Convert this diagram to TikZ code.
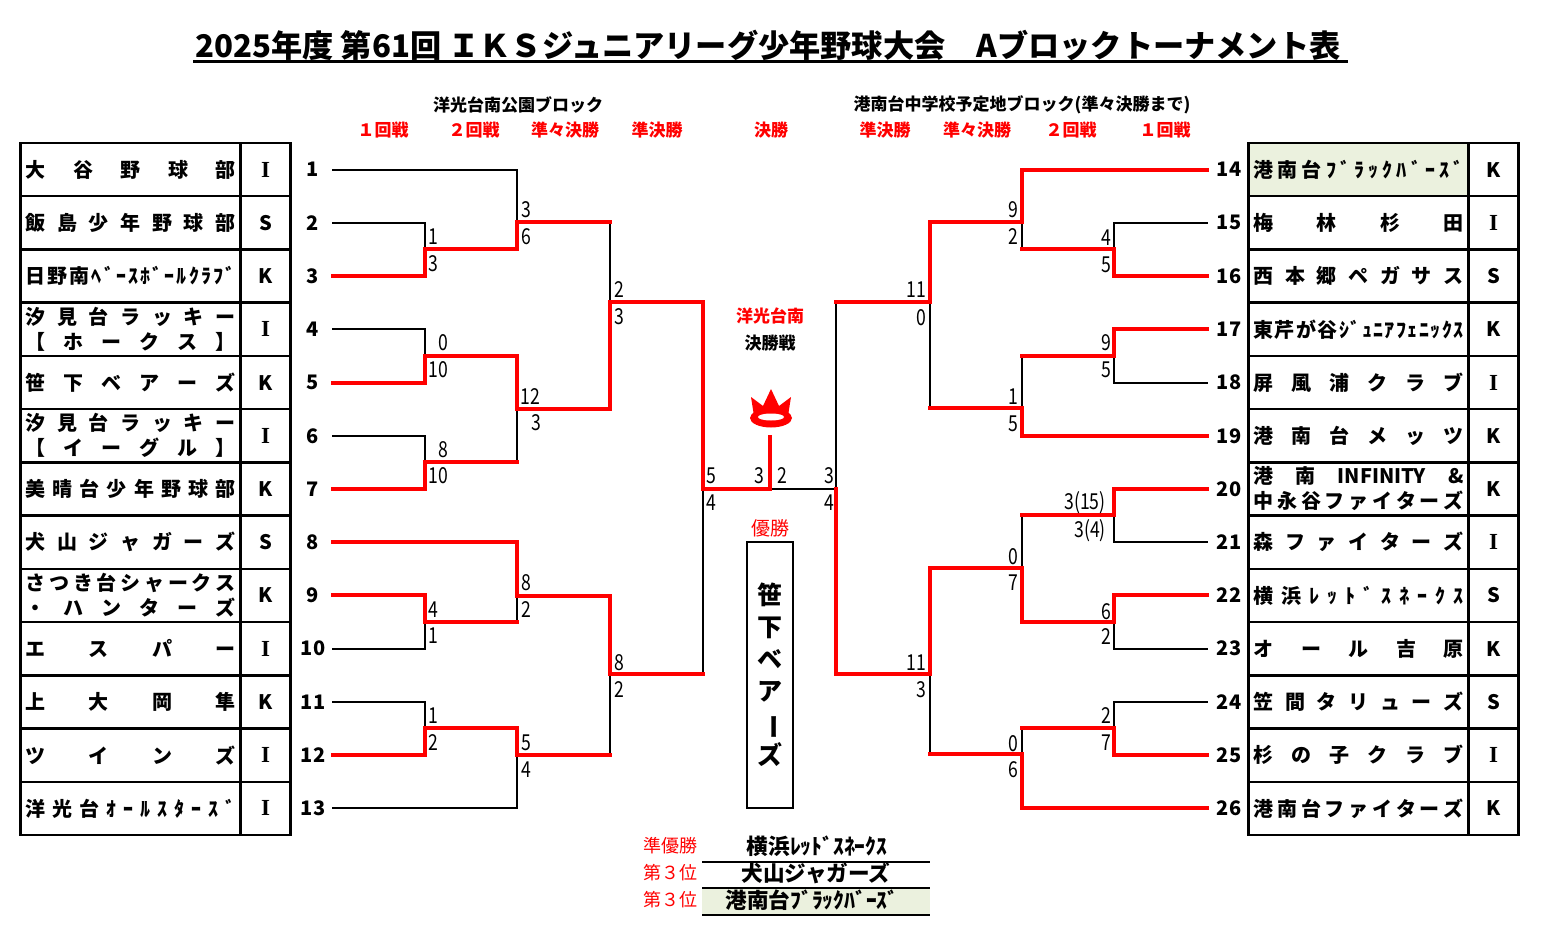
\documentclass[tikz,border=0pt]{standalone}
\usepackage{fontspec}
\setmainfont{Noto Sans CJK JP}
\newfontfamily\scorefont{Noto Sans CJK JP}[FakeStretch=0.8]
\newfontfamily\serifclub{Liberation Serif}
\usepackage{graphicx}

\definecolor{paleolive}{HTML}{EBF1DE}

% spread the letters of a name over the whole cell
\newlength\namew \setlength\namew{105pt}
\def\distloop#1{\ifx#1\relax\else\hfill#1\expandafter\distloop\fi}
\def\distfirst#1{#1\distloop}
\newcommand\dist[1]{\makebox[\namew][s]{\distfirst#1\relax}}
\newcommand\clubI{{\serifclub\bfseries\fontsize{11.5}{12}\selectfont I}}

\tikzset{
  bline/.style={black, line width=1pt, line cap=rect},
  rline/.style={red, line width=2pt, line cap=rect},
  namecell/.style={draw, line width=1.2pt, minimum width=110pt, minimum height=26.6pt,
    inner sep=0pt, align=center, font=\bfseries\fontsize{10}{12.5}\selectfont},
  clubcell/.style={namecell, minimum width=25pt},
  seed/.style={inner sep=0pt, minimum width=20pt, font=\bfseries\fontsize{10}{12}\selectfont},
  score/.style={inner sep=0pt, font=\scorefont\fontsize{11}{12}\selectfont},
  head/.style={inner sep=0pt, font=\bfseries\fontsize{8.5}{10}\selectfont},
  roundlbl/.style={head, text=red},
  rank/.style={inner sep=0pt, text=red, font=\fontsize{9}{11}\selectfont},
  place/.style={inner sep=0pt, font=\bfseries\fontsize{10.8}{12}\selectfont}
}

\begin{document}
\begin{tikzpicture}[x=0.5pt, y=-0.5pt]
  \useasboundingbox (0,0) rectangle (1548,942);

  % title and headings
  \node[anchor=base, inner sep=0pt, font=\bfseries\fontsize{15.6}{18}\selectfont] (title) at (768,57)
    {2025年度 第61回 ＩＫＳジュニアリーグ少年野球大会　Aブロックトーナメント表};
  \draw[line width=1.5pt] (193,61) -- (1348,61);
  \node[head] (blkL) at (518,105) {洋光台南公園ブロック};
  \node[head] (blkR) at (1022,105) {港南台中学校予定地ブロック(準々決勝まで)};
  \foreach \x/\t [count=\k] in {383/１回戦, 474/２回戦, 565/準々決勝, 657/準決勝, 771/決勝,
      885/準決勝, 977/準々決勝, 1071/２回戦, 1165/１回戦}
    \node[roundlbl] (rd\k) at (\x,130) {\t};

  % teams
  \fill[paleolive] (1248.5,143) rectangle (1468.5,196.2);
  \foreach \i/\nm/\cl in {1/\dist{大谷野球部}/\clubI, 2/\dist{飯島少年野球部}/S,
      3/\dist{日野南ﾍﾞｰｽﾎﾞｰﾙｸﾗﾌﾞ}/K, 4/\dist{汐見台ラッキー}\\\dist{【ホークス】}/\clubI,
      5/\dist{笹下ベアーズ}/K, 6/\dist{汐見台ラッキー}\\\dist{【イーグル】}/\clubI,
      7/\dist{美晴台少年野球部}/K, 8/\dist{犬山ジャガーズ}/S,
      9/\dist{さつき台シャークス}\\\dist{・ハンターズ}/K, 10/\dist{エスパー}/\clubI,
      11/\dist{上大岡隼}/K, 12/\dist{ツインズ}/\clubI, 13/\dist{洋光台ｵｰﾙｽﾀｰｽﾞ}/\clubI}{
    \node[namecell] (t\i) at (130.5,{116.4+53.23*\i}) {\nm};
    \node[clubcell] (c\i) at (265.5,{116.4+53.23*\i}) {\cl};
    \node[seed] (n\i) at (313,{116.4+53.23*\i}) {\i};
  }
  \foreach \i/\nm/\cl in {14/\dist{港南台ﾌﾞﾗｯｸﾊﾞｰｽﾞ}/K, 15/\dist{梅林杉田}/\clubI,
      16/\dist{西本郷ペガサス}/S, 17/\dist{東芹が谷ｼﾞｭﾆｱﾌｪﾆｯｸｽ}/K,
      18/\dist{屏風浦クラブ}/\clubI, 19/\dist{港南台メッツ}/K,
      20/\makebox[\namew][s]{港\hfill 南\hfill INFINITY\hfill \&}\\\dist{中永谷ファイターズ}/K,
      21/\dist{森ファイターズ}/\clubI, 22/\dist{横浜ﾚｯﾄﾞｽﾈｰｸｽ}/S, 23/\dist{オール吉原}/K,
      24/\dist{笠間タリューズ}/S, 25/\dist{杉の子クラブ}/\clubI, 26/\dist{港南台ファイターズ}/K}{
    \node[namecell] (t\i) at (1358.5,{116.4+53.23*(\i-13)}) {\nm};
    \node[clubcell] (c\i) at (1493.5,{116.4+53.23*(\i-13)}) {\cl};
    \node[seed, minimum width=22pt] (n\i) at (1229,{116.4+53.23*(\i-13)}) {\i};
  }

  % match points
  \coordinate (lA) at (425,249);  \coordinate (lB) at (517,222);
  \coordinate (lC) at (425,356);  \coordinate (lD) at (425,462);
  \coordinate (lE) at (517,409);  \coordinate (lF) at (610,302);
  \coordinate (lG) at (425,622);  \coordinate (lH) at (517,596);
  \coordinate (lI) at (425,728);  \coordinate (lJ) at (517,755);
  \coordinate (lK) at (610,674);  \coordinate (lL) at (703,489);
  \coordinate (rA) at (1114,249); \coordinate (rB) at (1022,222);
  \coordinate (rC) at (1114,356); \coordinate (rD) at (1022,408);
  \coordinate (rE) at (930,302);  \coordinate (rF) at (1114,515);
  \coordinate (rG) at (1114,622); \coordinate (rH) at (1022,568);
  \coordinate (rI) at (1114,728); \coordinate (rJ) at (1022,754);
  \coordinate (rK) at (930,674);  \coordinate (rL) at (836,489);
  \coordinate (fin) at (770,489); \coordinate (ftop) at (770,437);

  % losers
  \foreach \a/\b in {n2.east/lA, n1.east/lB, n4.east/lC, n6.east/lD, n10.east/lG,
      n11.east/lI, n13.east/lJ, n15.west/rA, n18.west/rC, n21.west/rF,
      n23.west/rG, n24.west/rI}
    \draw[bline] (\a) -| (\b);
  \foreach \a/\b in {lD/lE, lB/lF, lG/lH, lJ/lK, lK/lL, rA/rB, rC/rD, rD/rE,
      rF/rH, rI/rJ, rJ/rK, rE/rL}
    \draw[bline] (\a -| \b) -- (\b);
  \draw[bline] (rL) -- (fin);

  % winners
  \foreach \a/\b in {lD/lE, lB/lF, lG/lH, lJ/lK, lK/lL, rA/rB, rC/rD, rD/rE,
      rF/rH, rI/rJ, rJ/rK, rE/rL}
    \draw[rline] (\a) -- (\a -| \b);
  \foreach \a/\b in {n3.east/lA, lA/lB, n5.east/lC, n7.east/lD, lC/lE, lE/lF,
      n9.east/lG, n8.east/lH, n12.east/lI, lI/lJ, lH/lK, lF/lL, lL/fin,
      n16.west/rA, n14.west/rB, n17.west/rC, n19.west/rD, rB/rE, n20.west/rF,
      n22.west/rG, rG/rH, n25.west/rI, n26.west/rJ, rH/rK, rK/rL}
    \draw[rline] (\a) -| (\b);
  \draw[rline] (ftop) -- (fin);

  % scores
  \foreach \p/\t [count=\k] in {{433,237}/1, {433,264}/3, {526,210}/3, {526,237}/6,
      {443,343}/0, {438,370}/10, {443,450}/8, {438,476}/10, {530,397}/12, {536,423}/3,
      {619,290}/2, {619,317}/3, {711,476}/5, {711,503}/4, {526,583}/8, {526,610}/2,
      {433,610}/4, {433,636}/1, {619,663}/8, {619,690}/2, {433,716}/1, {433,743}/2,
      {526,743}/5, {526,770}/4, {759,476}/3, {782,476}/2,
      {1106,238}/4, {1106,265}/5, {1013,210}/9, {1013,237}/2, {1106,343}/9, {1106,370}/5,
      {1013,397}/1, {1013,424}/5, {916,290}/11, {921,318}/0, {829,476}/3, {829,503}/4,
      {1085,503}/3(15), {1090,531}/3(4), {1106,612}/6, {1106,637}/2, {1013,557}/0,
      {1013,583}/7, {1106,716}/2, {1106,743}/7, {1013,744}/0, {1013,770}/6,
      {916,663}/11, {921,690}/3}
    \node[score] (s\k) at (\p) {\t};

  % final
  \node[head, text=red] (host) at (770,316) {洋光台南};
  \node[head] (finlbl) at (770,343) {決勝戦};
  \fill[red] (751,397) -- (763,406) -- (771,389) -- (779,406) -- (791,397)
    -- (788,416) -- (754,416) -- cycle;
  \fill[red] (771,418) ellipse [x radius=21, y radius=9.5];
  \fill[white] (771,417) ellipse [x radius=13, y radius=3.5];
  \node[inner sep=0pt, text=red, font=\fontsize{9.5}{11}\selectfont] (champlbl) at (770,528) {優勝};
  \node[draw, line width=1pt, minimum width=23pt, minimum height=133pt, inner sep=0pt,
    align=center, font=\bfseries\fontsize{12.5}{16}\selectfont] (champ) at (770,675)
    {笹\\下\\ベ\\ア\\\rotatebox[origin=c]{-90}{ー}\\ズ};

  % places
  \fill[paleolive] (702,888) rectangle (930,915);
  \draw[line width=1pt] (702,862) -- (930,862);
  \draw[line width=1pt] (702,888) -- (930,888);
  \draw[line width=1pt] (702,915) -- (930,915);
  \node[rank, anchor=east] (rk1) at (698,846) {準優勝};
  \node[rank, anchor=east] (rk2) at (698,873) {第３位};
  \node[rank, anchor=east] (rk3) at (698,900) {第３位};
  \node[place] (pl1) at (817,846) {横浜ﾚｯﾄﾞｽﾈｰｸｽ};
  \node[place] (pl2) at (816,873) {犬山ジャガーズ};
  \node[place] (pl3) at (812,900) {港南台ﾌﾞﾗｯｸﾊﾞｰｽﾞ};
\end{tikzpicture}
\end{document}
